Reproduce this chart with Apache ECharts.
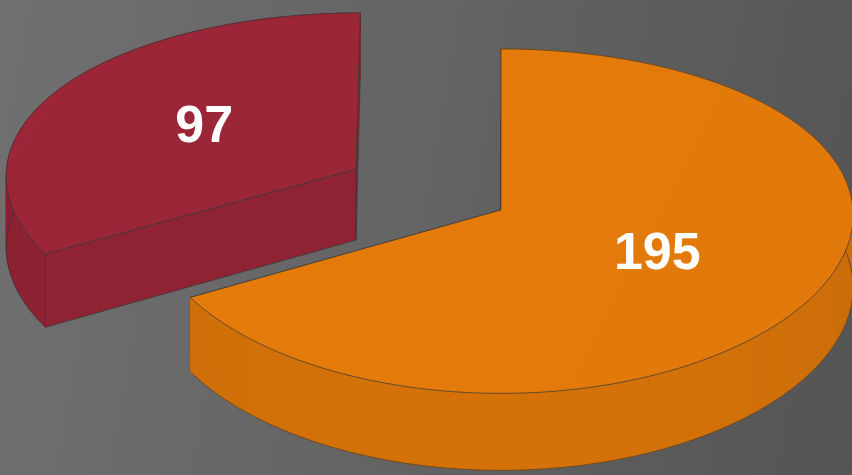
<!DOCTYPE html>
<html>
<head>
<meta charset="utf-8">
<title>3D pie</title>
<script src="https://cdn.jsdelivr.net/npm/echarts@6/dist/echarts.min.js"></script>
<style>
  html, body { margin: 0; padding: 0; }
  #chart {
    width: 852px;
    height: 475px;
    background: linear-gradient(100deg, #707070 0%, #636363 50%, #545454 100%);
  }
</style>
</head>
<body>
<div id="chart"></div>
<script>
// data
const sliceNames = ['Slice A', 'Slice B'];
const sliceValues = [195, 97];

// style (kept apart from the data)
const sliceColors = ['#E37A0A', '#9B2637'];
const sliceExplode = [0, 0.48];   // fraction of radius, along the mid angle
const START = -90;                // first slice starts at 12 o'clock, clockwise
const KX = 0.03;                  // perspective, horizontal
const KY = 0.065;                 // perspective, vertical
const RAD = Math.PI / 180;

const total = sliceValues.reduce((a, b) => a + b, 0);

function sliceAngles(i) {
  let acc = 0;
  for (let j = 0; j < i; j++) acc += sliceValues[j];
  return [START + acc / total * 360, START + (acc + sliceValues[i]) / total * 360];
}

// multiply a hex colour by f
function shade(hex, f) {
  const n = parseInt(hex.slice(1), 16);
  const r = Math.min(255, Math.round(((n >> 16) & 255) * f));
  const g = Math.min(255, Math.round(((n >> 8) & 255) * f));
  const b = Math.min(255, Math.round((n & 255) * f));
  return 'rgb(' + r + ',' + g + ',' + b + ')';
}

function renderSlice(params, api) {
  const i = params.dataIndex;
  const value = api.value(0);
  const W = api.getWidth(), H = api.getHeight();
  const cx = W * 0.588, cy = H * 0.442;
  const rx = 352 * W / 852, ry = 171.5 * H / 475, depth = 72 * H / 475;
  const color = sliceColors[i];
  const [a0, a1] = sliceAngles(i);
  const midDeg = (a0 + a1) / 2;
  const mid = midDeg * RAD;
  const ou = Math.cos(mid) * sliceExplode[i];
  const ov = Math.sin(mid) * sliceExplode[i];

  // project a point of the slice: angle t (deg), radius r (0..1), down 0 = top, 1 = bottom
  function P(t, r, down) {
    const u = ou + r * Math.cos(t * RAD);
    const v = ov + r * Math.sin(t * RAD);
    const sx = 1 / (1 - KX * v);
    const sy = 1 / (1 - KY * v);
    return [cx + rx * u * sx, cy + ry * v * sy + down * depth * sy];
  }

  const base = Math.round((ov + Math.sin(mid) * 0.5) * 100) * 10;
  const children = [];
  const edge = 'rgba(55,55,55,0.7)';

  // cut faces
  function cutFace(t, normalDeg) {
    const front = Math.sin(normalDeg * RAD) > 0.01;
    children.push({
      type: 'polygon',
      z2: base + (front ? 3 : 1),
      shape: { points: [P(t, 0, 0), P(t, 1, 0), P(t, 1, 1), P(t, 0, 1)] },
      style: { fill: shade(color, 0.92), stroke: edge, lineWidth: 1 }
    });
  }
  cutFace(a0, a0 - 90);
  cutFace(a1, a1 + 90);

  // outer wall, in thin strips for a faceted shading
  const step = 2;
  const bottom = [];
  for (let t = a0; t < a1; t += step) {
    const t2 = Math.min(a1, t + step);
    const m = (t + t2) / 2 * RAD;
    const f = 0.89 + 0.045 * Math.sin(m);
    const fill = shade(color, f);
    children.push({
      type: 'polygon',
      z2: base + 2,
      shape: { points: [P(t, 1, 0), P(t2, 1, 0), P(t2, 1, 1), P(t, 1, 1)] },
      style: { fill: fill, stroke: fill, lineWidth: 0.8 }
    });
  }
  for (let t = a0; t <= a1 + 1e-6; t += 1) bottom.push(P(t, 1, 1));
  children.push({
    type: 'polyline',
    z2: base + 2,
    shape: { points: bottom },
    style: { fill: null, stroke: edge, lineWidth: 1 }
  });

  // top face
  const top = [P(a0, 0, 0)];
  for (let t = a0; t <= a1 + 1e-6; t += 1) top.push(P(Math.min(t, a1), 1, 0));
  top.push(P(a1, 1, 0));
  children.push({
    type: 'polygon',
    z2: base + 4,
    shape: { points: top },
    style: {
      fill: {
        type: 'linear', x: 0, y: 0, x2: 1, y2: 1,
        colorStops: [
          { offset: 0, color: shade(color, 1.01) },
          { offset: 1, color: shade(color, 0.99) }
        ]
      },
      stroke: edge,
      lineWidth: 1
    }
  });

  // value label on the top face
  const lp = P(midDeg, 0.51, 0);
  children.push({
    type: 'text',
    z2: 10000,
    x: lp[0],
    y: lp[1],
    style: {
      text: String(value),
      fill: '#ffffff',
      font: 'bold 52px "Liberation Sans", Arial, sans-serif',
      align: 'center',
      verticalAlign: 'middle'
    }
  });

  return { type: 'group', children: children };
}

const chart = echarts.init(document.getElementById('chart'));
chart.setOption({
  backgroundColor: 'transparent',
  animation: false,
  series: [{
    type: 'custom',
    coordinateSystem: 'none',
    renderItem: renderSlice,
    data: sliceValues.map((v, i) => ({ name: sliceNames[i], value: [v] }))
  }]
});
</script>
</body>
</html>
